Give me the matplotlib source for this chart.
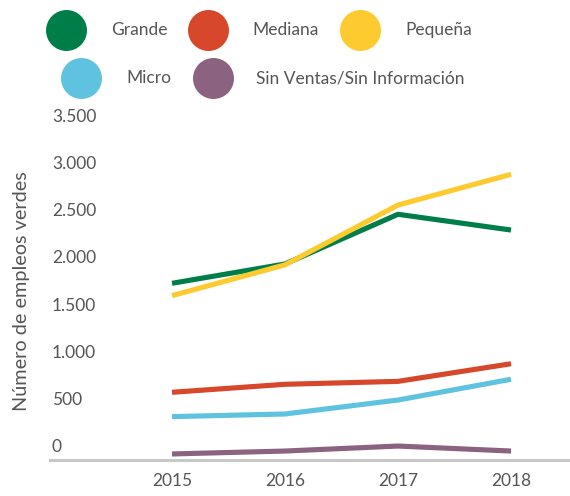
import matplotlib
matplotlib.use("Agg")
import matplotlib.pyplot as plt
import matplotlib.transforms as mtrans
from matplotlib.lines import Line2D
from matplotlib import font_manager

plt.rcParams['font.family'] = ['Lato', 'DejaVu Sans']

years = [2015, 2016, 2017, 2018]
series_names = ["Grande", "Mediana", "Pequeña", "Micro", "Sin Ventas/Sin Información"]
grande = [1874, 2079, 2606, 2439]
mediana = [718, 803, 834, 1021]
pequena = [1743, 2070, 2704, 3030]
micro = [460, 488, 636, 856]
sin_ventas = [64, 95, 148, 95]
colors = ["#007E4A", "#D6472B", "#FDCB2F", "#5FC3E0", "#8B6280"]
ytick_values = [0, 500, 1000, 1500, 2000, 2500, 3000, 3500]
ytick_labels = ["0", "500", "1.000", "1.500", "2.000", "2.500", "3.000", "3.500"]
ylabel = "Número de empleos verdes"

names = {f.name for f in font_manager.fontManager.ttflist}
legend_family = ['Liberation Sans Narrow', 'Lato'] if 'Liberation Sans Narrow' in names else ['Lato']
legend_size = 14 if 'Liberation Sans Narrow' in names else 12.5

W, H = 570, 496
DPI = 100
fig = plt.figure(figsize=(W / DPI, H / DPI), dpi=DPI)
ax = fig.add_axes([50 / W, (H - 460) / H, 520 / W, 330 / H])

data = [grande, mediana, pequena, micro, sin_ventas]
order = [4, 3, 1, 0, 2]
for i in order:
    ax.plot(years, data[i], color=colors[i], lw=3.7, solid_capstyle='butt', zorder=3)

ax.set_ylim(0, 3500)
ax.set_xlim(2015 - 122 / 113, 2018 + 59 / 113)
for s in ["top", "right", "left"]:
    ax.spines[s].set_visible(False)
ax.spines["bottom"].set_color("#C8C8C8")
ax.spines["bottom"].set_linewidth(2.2)
ax.set_yticks([])
ax.set_xticks(years)
ax.set_xticklabels([str(y) for y in years])
ax.tick_params(axis='x', length=0, pad=9, labelsize=12.5, labelcolor="#555555")

trans = mtrans.blended_transform_factory(ax.transAxes, ax.transData) + \
    mtrans.ScaledTranslation(2 / DPI, 13 / DPI, fig.dpi_scale_trans)
for v, lab in zip(ytick_values, ytick_labels):
    ax.text(0, v, lab, transform=trans, ha='left', va='center',
            fontsize=12.5, color="#555555", clip_on=False)

fig.text(22 / W, 1 - 291 / H, ylabel, rotation=90, ha='center', va='center',
         fontsize=14.3, color="#555555")

# legend
leg_pos = [(66, 30, 111), (208, 30, 252), (360, 30, 405), (81, 78, 126), (213, 78, 256)]
for (cx, cy, tx), name, c in zip(leg_pos, series_names, colors):
    m = Line2D([cx / W], [1 - cy / H], marker='o', markersize=29.5, linestyle='none',
               markerfacecolor=c, markeredgecolor='none', transform=fig.transFigure)
    fig.add_artist(m)
    fig.text(tx / W, 1 - cy / H, name, ha='left', va='center', fontsize=legend_size,
             color="#555555", family=legend_family)

fig.savefig("out.png", dpi=DPI)
